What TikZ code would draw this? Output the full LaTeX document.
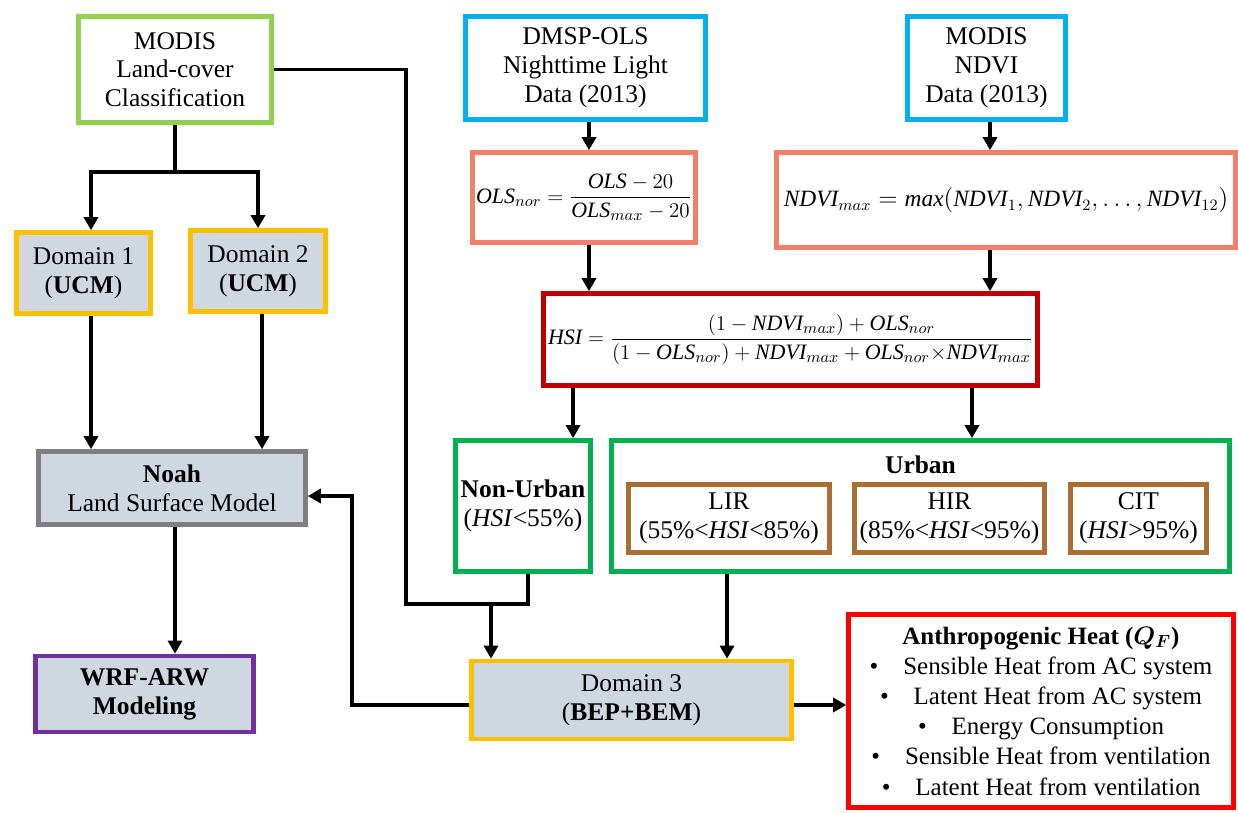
\documentclass[tikz,border=0pt]{standalone}
\usepackage{amsmath}
\usepackage{fontspec}
\setmainfont{Liberation Serif}
\usetikzlibrary{arrows.meta}
\definecolor{lcgreen}{HTML}{92D050}
\definecolor{skyblue}{HTML}{00B0F0}
\definecolor{coral}{HTML}{F47F6B}
\definecolor{darkred}{HTML}{C00000}
\definecolor{gold}{HTML}{FFC000}
\definecolor{boxfill}{HTML}{CFD7E0}
\definecolor{midgray}{HTML}{7F7F7F}
\definecolor{violet}{HTML}{7030A0}
\definecolor{urbgreen}{HTML}{00B050}
\definecolor{tan}{HTML}{A86E33}
\definecolor{brightred}{HTML}{FF0000}
\newcommand{\boxfont}{\fontsize{14.5}{16.4}\selectfont}
\newcommand{\eqfont}{\fontsize{12.5}{15}\selectfont}

\begin{document}
\begin{tikzpicture}[x=0.02cm,y=-0.02cm,
  flowbox/.style={draw,line width=2.6pt,align=center,inner sep=2pt,font=\boxfont},
  simbox/.style={flowbox,fill=boxfill},
  plain/.style={line width=2.1pt},
  link/.style={plain,-{Triangle[width=8pt,length=7.5pt]}}]
% Background
\fill[white] (0,0) rectangle (1238,812);
\useasboundingbox (0,0) rectangle (1238,812);
% Data sources
\node[flowbox,draw=lcgreen,minimum width=3.86cm,minimum height=2.12cm] (lc) at (175,69.5) {MODIS\\Land-cover\\Classification};
\node[flowbox,draw=skyblue,minimum width=4.80cm,minimum height=2.06cm] (dmsp) at (585.5,68) {DMSP-OLS\\Nighttime Light\\Data (2013)};
\node[flowbox,draw=skyblue,minimum width=3.16cm,minimum height=2.06cm] (ndvi) at (986.5,68) {MODIS\\NDVI\\Data (2013)};
% Formulas
\node[flowbox,draw=coral,minimum width=4.42cm,minimum height=1.80cm,font=\eqfont] (olsf) at (584,197.5)
  {$\mathit{OLS}_{nor}=\dfrac{\mathit{OLS}-20}{\mathit{OLS}_{max}-20}$};
\node[flowbox,draw=coral,minimum width=9.18cm,minimum height=1.90cm,font=\fontsize{13.3}{15}\selectfont] (ndvif) at (1006,200)
  {$\mathit{NDVI}_{max}=\mathit{max}(\mathit{NDVI}_1,\mathit{NDVI}_2,\dots,\mathit{NDVI}_{12})$};
\node[flowbox,draw=darkred,minimum width=9.88cm,minimum height=1.84cm,font=\eqfont] (hsi) at (790.5,339.5)
  {$\mathit{HSI}=\dfrac{(1-\mathit{NDVI}_{max})+\mathit{OLS}_{nor}}{(1-\mathit{OLS}_{nor})+\mathit{NDVI}_{max}+\mathit{OLS}_{nor}{\times}\mathit{NDVI}_{max}}$};
% Model domains
\node[simbox,draw=gold,minimum width=2.68cm,minimum height=1.62cm] (d1) at (83.5,273) {Domain 1\\(\textbf{UCM})};
\node[simbox,draw=gold,minimum width=2.70cm,minimum height=1.62cm] (d2) at (258,271) {Domain 2\\(\textbf{UCM})};
\node[simbox,draw=midgray,minimum width=5.34cm,minimum height=1.46cm] (noah) at (172,488) {\textbf{Noah}\\Land Surface Model};
\node[simbox,draw=violet,minimum width=4.36cm,minimum height=1.52cm] (wrf) at (144.5,694) {\textbf{WRF-ARW}\\\textbf{Modeling}};
\node[simbox,draw=gold,minimum width=6.40cm,minimum height=1.56cm] (d3) at (631.5,700) {Domain 3\\(\textbf{BEP+BEM})};
% Land classes
\node[flowbox,draw=urbgreen,minimum width=2.70cm,minimum height=2.62cm] (nonurban) at (523,506) {\textbf{Non-Urban}\\(\textit{HSI}<55\%)};
\node[flowbox,draw=urbgreen,minimum width=12.36cm,minimum height=2.62cm] (urban) at (920.5,506) {};
\node[font=\boxfont\bfseries] (urbanlbl) at (920.5,465) {Urban};
\node[flowbox,draw=tan,minimum width=4.02cm,minimum height=1.36cm] (lir) at (729,518.5) {LIR\\(55\%<\textit{HSI}<85\%)};
\node[flowbox,draw=tan,minimum width=3.80cm,minimum height=1.36cm] (hir) at (949.5,518.5) {HIR\\(85\%<\textit{HSI}<95\%)};
\node[flowbox,draw=tan,minimum width=2.72cm,minimum height=1.36cm] (cit) at (1138.5,518.5) {CIT\\(\textit{HSI}>95\%)};
% Anthropogenic heat
\node[flowbox,draw=brightred,minimum width=7.70cm,minimum height=3.86cm,font=\fontsize{14.2}{17.2}\selectfont] (ah) at (1041,711)
  {\textbf{Anthropogenic Heat ($\boldsymbol{Q_F}$)}\\
   \textbullet\quad Sensible Heat from AC system\\
   \textbullet\quad Latent Heat from AC system\\
   \textbullet\quad Energy Consumption\\
   \textbullet\quad Sensible Heat from ventilation\\
   \textbullet\quad Latent Heat from ventilation};
% Connectors
\coordinate (lcsplit) at (175,172);
\coordinate (merge) at (406,604);
\coordinate (join) at (491,604);
\coordinate (back) at (352,496);
\draw[plain] (lc.south) -- (lcsplit);
\draw[link] (lcsplit) -| ([xshift=0.15cm]d1.north);
\draw[link] (lcsplit) -| (d2.north);
\draw[link] ([xshift=0.15cm]d1.south) -- ([xshift=0.15cm]d1.south |- noah.north);
\draw[link] ([xshift=0.08cm]d2.south) -- ([xshift=0.08cm]d2.south |- noah.north);
\draw[link] ([xshift=0.06cm]noah.south) -- ([xshift=0.06cm]noah.south |- wrf.north);
\draw[plain] (lc.east) -| (merge) -| ([xshift=0.1cm]nonurban.south);
\draw[link] (join) -- (join |- d3.north);
\draw[link] ([yshift=-0.1cm]d3.west) -| (back) -- (back -| noah.east);
\draw[link] ([xshift=0.07cm]dmsp.south) -- ([xshift=0.07cm]dmsp.south |- olsf.north);
\draw[link] ([xshift=0.07cm]ndvi.south) -- ([xshift=0.07cm]ndvi.south |- ndvif.north);
\draw[link] ([xshift=0.1cm]olsf.south) -- ([xshift=0.1cm]olsf.south |- hsi.north);
\draw[link] ([xshift=0.07cm]ndvi.south |- ndvif.south) -- ([xshift=0.07cm]ndvi.south |- hsi.north);
\draw[link] ([xshift=-4.35cm]hsi.south) -- ([xshift=-4.35cm]hsi.south |- nonurban.north);
\draw[link] ([xshift=3.63cm]hsi.south) -- ([xshift=3.63cm]hsi.south |- urban.north);
\draw[link] ([xshift=-3.87cm]urban.south) -- ([xshift=-3.87cm]urban.south |- d3.north);
\draw[link] ([yshift=-0.1cm]d3.east) -- ([yshift=-0.1cm]d3.east -| ah.west);
\end{tikzpicture}
\end{document}
